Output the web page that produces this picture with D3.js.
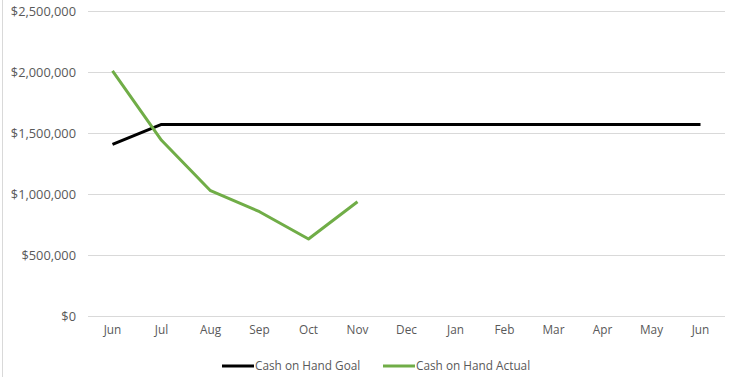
<!DOCTYPE html>
<html><head><meta charset="utf-8">
<script src="https://cdn.jsdelivr.net/npm/d3@7"></script>
<style>body{margin:0;background:#fff}svg{display:block}</style>
</head><body>
<script>
const months = ["Jun","Jul","Aug","Sep","Oct","Nov","Dec","Jan","Feb","Mar","Apr","May","Jun"];
const goal = [1407000,1570000,1570000,1570000,1570000,1570000,1570000,1570000,1570000,1570000,1570000,1570000,1570000];
const actual = [2010000,1440000,1027000,855000,631000,937000];
const yTicks = [0,500000,1000000,1500000,2000000,2500000];
const seriesNames = ["Cash on Hand Goal","Cash on Hand Actual"];
const colors = ["#000000","#70AD47"];

const W=729,H=377;
const svg=d3.select("body").append("svg").attr("width",W).attr("height",H);
const font="'Open Sans', sans-serif";
svg.append("line").attr("x1",2.5).attr("x2",2.5).attr("y1",0).attr("y2",H).attr("stroke","#d9d9d9");

const idx=months.map((d,i)=>i);
const x=d3.scaleBand().domain(idx).range([88,725]);
const y=d3.scaleLinear().domain([0,2500000]).range([316,11]);

svg.append("g").selectAll("line").data(yTicks).join("line")
 .attr("x1",88).attr("x2",725).attr("y1",d=>Math.round(y(d))+0.5).attr("y2",d=>Math.round(y(d))+0.5)
 .attr("stroke","#d9d9d9").attr("stroke-width",1);

const fmt=d=>"$"+d3.format(",")(d);
const yAxis=svg.append("g").attr("transform","translate(88,0)")
 .call(d3.axisLeft(y).tickValues(yTicks).tickFormat(fmt).tickSize(0).tickPadding(12));
yAxis.select(".domain").remove();
yAxis.selectAll("text").attr("fill","#595959").style("font-family",font).style("font-size","12.8px");

const xAxis=svg.append("g").attr("transform","translate(0,316)")
 .call(d3.axisBottom(x).tickFormat(i=>months[i]).tickSize(0).tickPadding(10));
xAxis.select(".domain").remove();
xAxis.selectAll("text").attr("fill","#595959").style("font-family",font).style("font-size","11.8px");

const line=d3.line().x((d,i)=>x(i)+x.bandwidth()/2).y(d=>y(d));
[goal,actual].forEach((s,k)=>{
  svg.append("path").datum(s).attr("d",line).attr("fill","none")
   .attr("stroke",colors[k]).attr("stroke-width",3).attr("stroke-linejoin","round");
});

const leg=[{x:222,tx:255},{x:383,tx:416}];
seriesNames.forEach((n,k)=>{
  svg.append("line").attr("x1",leg[k].x).attr("x2",leg[k].x+32).attr("y1",366).attr("y2",366)
   .attr("stroke",colors[k]).attr("stroke-width",3);
  svg.append("text").attr("x",leg[k].tx).attr("y",366).attr("dy","0.35em").text(n)
   .attr("fill","#595959").style("font-family",font).style("font-size","11.8px");
});
</script>
</body></html>
